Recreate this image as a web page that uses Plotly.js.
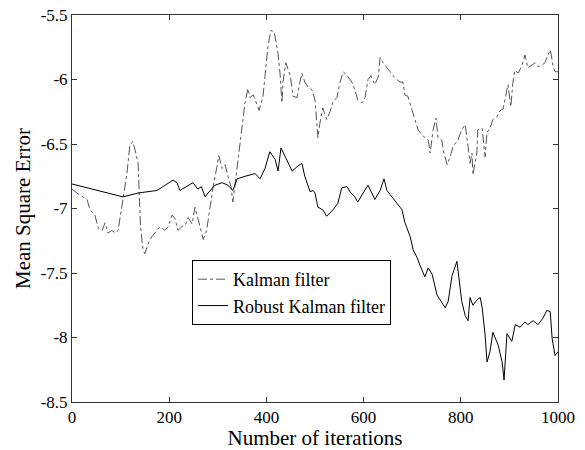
<!DOCTYPE html>
<html>
<head>
<meta charset="utf-8">
<script src="https://cdn.plot.ly/plotly-3.0.1.min.js"></script>
<style>html,body{margin:0;padding:0;background:#fff;}#chart{width:585px;height:450px;}</style>
</head>
<body>
<div id="chart"></div>
<script>
// Kalman filter (dash-dot)
const kalmanX = [0,10,31,37,47,54,62,68,74,82,89,95,99,105,113,119,125,130,136,141,146,150,157,164,175,181,191,198,206,212,218,226,233,239,247,253,260,267,270,277,284,290,298,302,309,315,321,327,331,335,342,346,352,356,362,366,373,381,385,393,399,403,409,416,424,428,432,434,440,449,455,463,469,473,479,486,494,500,506,510,516,524,531,537,545,551,558,566,576,582,588,597,603,609,615,623,630,634,640,648,654,665,675,681,685,691,700,706,712,720,726,733,737,743,749,753,761,764,772,778,784,794,802,809,815,819,823,825,833,835,844,850,854,860,866,874,881,887,895,897,903,907,911,918,926,932,938,947,953,959,967,973,984,988,990,994,1000];
const kalmanY = [-6.85,-6.88,-6.93,-7.01,-7.05,-7.15,-7.17,-7.11,-7.19,-7.17,-7.19,-7.17,-7.07,-6.91,-6.73,-6.51,-6.48,-6.55,-6.65,-7.14,-7.32,-7.35,-7.27,-7.22,-7.17,-7.14,-7.17,-7.14,-7.05,-7.08,-7.17,-7.14,-7.13,-7.07,-7.12,-6.99,-7.09,-7.19,-7.24,-7.17,-6.99,-6.84,-6.68,-6.59,-6.69,-6.66,-6.75,-6.83,-6.95,-6.83,-6.60,-6.47,-6.31,-6.18,-6.07,-6.14,-6.12,-6.20,-6.24,-6.13,-5.93,-5.75,-5.62,-5.63,-5.80,-5.95,-6.18,-6.02,-5.87,-5.97,-6.13,-6.14,-6.02,-5.95,-6.02,-6.06,-6.08,-6.16,-6.45,-6.34,-6.22,-6.31,-6.25,-6.17,-6.14,-6.03,-5.94,-5.97,-6.02,-6.08,-6.16,-6.18,-6.14,-6.00,-5.97,-6.04,-5.98,-5.83,-5.87,-5.91,-5.94,-5.99,-6.02,-6.02,-6.12,-6.13,-6.24,-6.31,-6.39,-6.43,-6.45,-6.47,-6.57,-6.39,-6.30,-6.45,-6.47,-6.55,-6.66,-6.60,-6.52,-6.47,-6.39,-6.35,-6.52,-6.65,-6.57,-6.74,-6.57,-6.39,-6.38,-6.60,-6.41,-6.38,-6.31,-6.29,-6.24,-6.23,-6.08,-6.04,-6.21,-6.03,-5.93,-5.95,-5.89,-5.81,-5.91,-5.89,-5.87,-5.90,-5.89,-5.87,-5.77,-5.85,-5.90,-5.94,-5.94];

// Robust Kalman filter (solid)
const robustX = [0,10,30,64,105,136,175,208,216,222,249,259,266,274,280,294,309,321,331,340,356,377,387,397,407,418,424,430,442,453,465,473,479,490,496,500,506,516,524,537,547,555,566,572,582,588,599,609,617,623,634,642,648,658,669,679,685,696,702,710,716,726,733,741,751,768,774,782,792,794,802,809,815,819,825,833,840,844,850,854,860,866,877,885,889,895,905,912,922,932,938,949,959,969,977,984,988,994,1000];
const robustY = [-6.81,-6.82,-6.84,-6.87,-6.91,-6.88,-6.86,-6.78,-6.80,-6.86,-6.80,-6.85,-6.83,-6.91,-6.88,-6.82,-6.80,-6.82,-6.86,-6.77,-6.75,-6.73,-6.77,-6.69,-6.56,-6.62,-6.71,-6.53,-6.62,-6.71,-6.67,-6.65,-6.75,-6.87,-6.86,-6.88,-6.99,-7.01,-7.06,-7.01,-6.96,-6.84,-6.83,-6.87,-6.91,-6.95,-6.88,-6.82,-6.88,-6.93,-6.86,-6.77,-6.86,-6.91,-6.96,-7.01,-7.11,-7.22,-7.32,-7.38,-7.44,-7.53,-7.46,-7.51,-7.67,-7.77,-7.72,-7.52,-7.41,-7.47,-7.72,-7.83,-7.87,-7.69,-7.75,-7.71,-7.69,-7.77,-7.98,-8.19,-8.11,-7.96,-8.06,-8.19,-8.33,-7.97,-8.03,-7.90,-7.92,-7.88,-7.90,-7.87,-7.90,-7.85,-7.79,-7.80,-8.01,-8.14,-8.11];

const xTickVals = [0,200,400,600,800,1000];
const xTickText = ["0","200","400","600","800","1000"];
const yTickVals = [-8.5,-8,-7.5,-7,-6.5,-6,-5.5];
const yTickText = ["-8.5","-8","-7.5","-7","-6.5","-6","-5.5"];

const font = "Liberation Serif, Times New Roman, serif";

const traces = [
  {x: kalmanX, y: kalmanY, type: 'scatter', mode: 'lines', name: 'Kalman filter',
   line: {color: '#555555', width: 1, dash: 'dashdot'}},
  {x: robustX, y: robustY, type: 'scatter', mode: 'lines', name: 'Robust Kalman filter',
   line: {color: '#000000', width: 1}}
];

const axisCommon = {
  showgrid: false, zeroline: false, showline: true, linecolor: '#333', linewidth: 1,
  mirror: 'ticks', ticks: 'inside', ticklen: 5, tickcolor: '#333',
  tickfont: {family: font, size: 17, color: '#000'}, tickmode: 'array'
};

const layout = {
  width: 585, height: 450,
  margin: {l: 72, r: 27, t: 15, b: 48},
  paper_bgcolor: '#fff', plot_bgcolor: '#fff',
  font: {family: font, color: '#000'},
  showlegend: true,
  legend: {x: 0.247, y: 0.367, xanchor: 'left', yanchor: 'top',
    bordercolor: '#000', borderwidth: 1, bgcolor: '#fff',
    font: {family: font, size: 18, color: '#000'}, tracegroupgap: 0},
  xaxis: Object.assign({}, axisCommon, {range: [0, 1000], tickvals: xTickVals, ticktext: xTickText,
    title: {text: 'Number of iterations', font: {family: font, size: 21, color: '#000'}, standoff: 0}}),
  yaxis: Object.assign({}, axisCommon, {range: [-8.5, -5.5], tickvals: yTickVals, ticktext: yTickText,
    title: {text: 'Mean Square Error', font: {family: font, size: 21, color: '#000'}, standoff: 4}})
};

Plotly.newPlot('chart', traces, layout, {displayModeBar: false, staticPlot: true});
</script>
</body>
</html>
